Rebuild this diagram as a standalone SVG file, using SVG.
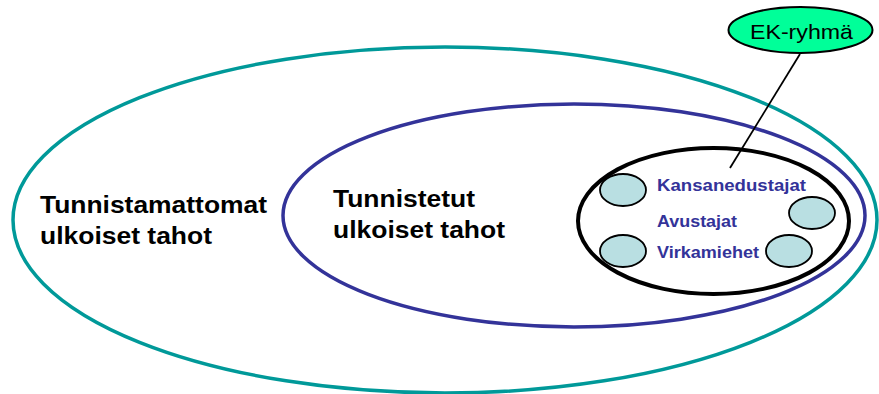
<svg xmlns="http://www.w3.org/2000/svg" width="879" height="394" viewBox="0 0 879 394">
  <style>
    .ring { fill: none; }
    .outer { stroke: #009999; stroke-width: 3.5; }
    .known { stroke: #333399; stroke-width: 3.5; }
    .core { stroke: #000000; stroke-width: 4; }
    .member { fill: #B9DFE2; stroke: #000000; stroke-width: 1.8; }
    .big { font-family: "Liberation Sans", Arial, sans-serif; font-weight: bold; font-size: 23px; fill: #000000; }
    .role { font-family: "Liberation Sans", Arial, sans-serif; font-weight: bold; font-size: 17px; fill: #333399; }
    .ek { font-family: "Liberation Sans", Arial, sans-serif; font-size: 21px; fill: #000000; }
  </style>
  <rect width="879" height="394" fill="#ffffff"/>

  <!-- Outer circle: unidentified external parties -->
  <g id="tunnistamattomat">
    <ellipse class="ring outer" cx="445" cy="220" rx="432" ry="173"/>
    <text class="big" x="40" y="213" textLength="227" lengthAdjust="spacingAndGlyphs">Tunnistamattomat</text>
    <text class="big" x="40" y="244" textLength="172" lengthAdjust="spacingAndGlyphs">ulkoiset tahot</text>
  </g>

  <!-- Middle circle: identified external parties -->
  <g id="tunnistetut">
    <ellipse class="ring known" cx="574" cy="215.5" rx="291" ry="111.5"/>
    <text class="big" x="333" y="207" textLength="142" lengthAdjust="spacingAndGlyphs">Tunnistetut</text>
    <text class="big" x="333" y="238" textLength="172" lengthAdjust="spacingAndGlyphs">ulkoiset tahot</text>
  </g>

  <!-- Inner circle: parliament people -->
  <g id="eduskunta">
    <ellipse class="ring core" cx="713.5" cy="221" rx="135.5" ry="73"/>
    <ellipse class="member" cx="623" cy="190" rx="23" ry="16"/>
    <ellipse class="member" cx="812" cy="213" rx="23" ry="16"/>
    <ellipse class="member" cx="623" cy="251" rx="23" ry="16"/>
    <ellipse class="member" cx="789" cy="251" rx="23" ry="16"/>
    <text class="role" x="657" y="191" textLength="149" lengthAdjust="spacingAndGlyphs">Kansanedustajat</text>
    <text class="role" x="657" y="227" textLength="80" lengthAdjust="spacingAndGlyphs">Avustajat</text>
    <text class="role" x="657" y="258" textLength="102" lengthAdjust="spacingAndGlyphs">Virkamiehet</text>
  </g>

  <!-- Connectors -->
  <g id="connectors">
    <line x1="800" y1="54" x2="730" y2="168" stroke="#000000" stroke-width="1.8"/>
  </g>

  <!-- EU affairs group callout -->
  <g id="ek-ryhma">
    <ellipse cx="800.5" cy="30" rx="72" ry="23" fill="#00FF99" stroke="#000000" stroke-width="2"/>
    <text class="ek" x="750" y="39" textLength="103" lengthAdjust="spacingAndGlyphs">EK-ryhmä</text>
  </g>
</svg>
